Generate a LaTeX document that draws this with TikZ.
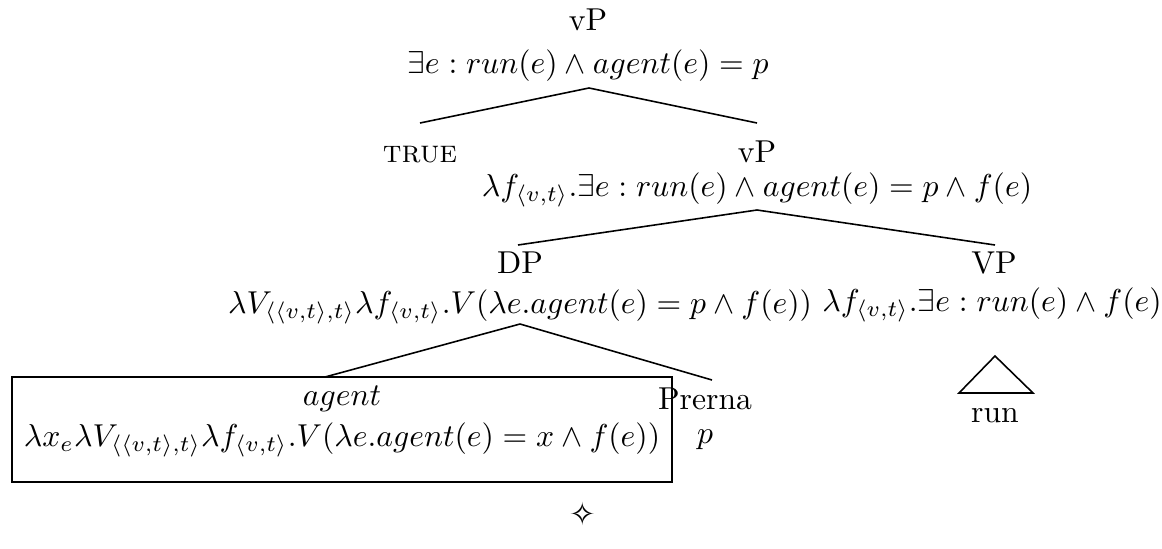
\documentclass[tikz,border=0pt]{standalone}
\usepackage{amsmath,amssymb}
\usepackage{fontspec}
\newfontfamily\starfont{DejaVu Sans}
\usetikzlibrary{positioning}

\begin{document}
\begin{tikzpicture}[x=0.3158pt, y=-0.3158pt,
  cat/.style={inner sep=0pt, anchor=center},
  sem/.style={inner sep=0pt, anchor=center},
  branch/.style={line width=0.5pt},
  lexbox/.style={draw, line width=0.5pt, minimum width=660*0.3158pt,
                 minimum height=105*0.3158pt, inner sep=0pt}]
  \useasboundingbox (0,0) rectangle (1162,548);
  % root
  \node[cat] (vp1) at (588,20) {vP};
  \node[sem] (vp1s) at (588,66) {$\exists e : run(e) \wedge agent(e) = p$};
  \coordinate (r0) at (589,88);
  \coordinate (r1) at (420,123);
  \coordinate (r2) at (757,123);
  \draw[branch] (r1) -- (r0) -- (r2);
  % true and lower vP
  \node[cat] (tru) at (420,155) {\textsc{true}};
  \node[cat] (vp2) at (757,152) {vP};
  \node[sem] (vp2s) at (757,190)
       {$\lambda f_{\langle v,t\rangle}.\exists e : run(e) \wedge agent(e) = p \wedge f(e)$};
  \coordinate (s0) at (757,210);
  \coordinate (s1) at (518,245);
  \coordinate (s2) at (995,245);
  \draw[branch] (s1) -- (s0) -- (s2);
  % DP and VP
  \node[cat] (dp) at (520,263) {DP};
  \node[sem] (dps) at (520,307)
       {$\lambda V_{\langle\langle v,t\rangle,t\rangle}\lambda f_{\langle v,t\rangle}.V(\lambda e.agent(e) = p \wedge f(e))$};
  \node[cat] (vp3) at (994,263) {VP};
  \node[sem] (vp3s) at (992,305)
       {$\lambda f_{\langle v,t\rangle}.\exists e : run(e) \wedge f(e)$};
  \coordinate (d0) at (520,324);
  \coordinate (d1) at (325,377);
  \coordinate (d2) at (712,380);
  \draw[branch] (d1) -- (d0) -- (d2);
  % triangle over run
  \coordinate (t0) at (995,356);
  \coordinate (t1) at (959,393);
  \coordinate (t2) at (1033,393);
  \draw[branch] (t0) -- (t1) -- (t2) -- cycle;
  \node[cat] (run) at (995,416) {run};
  % leaves
  \node[lexbox] (agbox) at (342,429.5) {};
  \node[sem] (ag) at (342,399) {$agent$};
  \node[sem] (ags) at (342,440)
       {$\lambda x_e\lambda V_{\langle\langle v,t\rangle,t\rangle}\lambda f_{\langle v,t\rangle}.V(\lambda e.agent(e) = x \wedge f(e))$};
  \node[cat] (prn) at (705,399) {Prerna};
  \node[sem] (prns) at (705,440) {$p$};
  % end mark
  \node[cat] (star) at (583,514) {\starfont ✧};
\end{tikzpicture}
\end{document}
